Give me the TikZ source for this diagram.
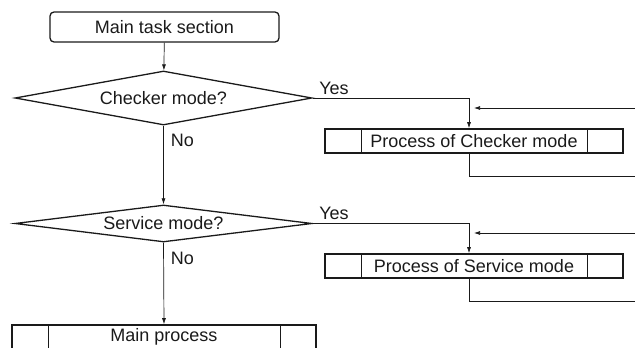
\documentclass[tikz,border=0pt]{standalone}
\usepackage{fontspec}
\setmainfont{Liberation Sans}
\usetikzlibrary{shapes.geometric,arrows.meta}
\definecolor{ink}{HTML}{1a1a1a}

\begin{document}
\begin{tikzpicture}[x=1pt, y=-1pt, font=\fontsize{18}{20}\selectfont, color=ink,
  decide/.style={diamond, draw, line width=1.3pt, aspect=8, inner sep=0pt, minimum width=297pt},
  procbox/.style={rectangle, draw, line width=1.6pt, minimum width=298pt, minimum height=24pt, inner sep=0pt},
  flow/.style={line width=0.7pt, -{Latex[length=6pt,width=4pt]}},
  link/.style={line width=0.7pt},
  answer/.style={inner sep=0pt, anchor=west, xshift=7pt}]
\useasboundingbox (0,0) rectangle (635,348);
\clip (0,0) rectangle (635,348);
\node[draw, rounded corners=4pt, line width=1.3pt, minimum width=229pt, minimum height=30pt] (task) at (164.5,27) {Main task section};
\node[decide, minimum height=54pt] (chk) at (163.5,98) {Checker mode?};
\node[decide, minimum height=37pt] (srv) at (163.5,223.5) {Service mode?};
\node[procbox] (pchk) at (474,141) {Process of Checker mode};
\node[procbox] (psrv) at (474,266) {Process of Service mode};
\node[procbox, minimum width=304pt] (pmain) at (164,337) {Main process};
\foreach \p in {pchk,psrv,pmain}
  \draw[line width=0.9pt] ([xshift=37pt]\p.north west) -- ([xshift=37pt]\p.south west)
    ([xshift=-36pt]\p.north east) -- ([xshift=-36pt]\p.south east);
\coordinate (in1) at ([xshift=-5pt]pchk.north);
\coordinate (in2) at ([xshift=-5pt]psrv.north);
\coordinate (back1) at (635,108);
\coordinate (tip1) at (474,108);
\coordinate (back2) at (635,233);
\coordinate (tip2) at (474,233);
\coordinate (out1) at (635,176);
\coordinate (out2) at (635,301);
\draw[flow] (task) -- (chk);
\draw[flow] (chk.south) -- (srv.north) node[pos=0.19, answer] {No};
\draw[flow] (srv.south) -- (pmain.north) node[pos=0.19, answer] {No};
\draw[flow] (chk.east) -| (in1) node[pos=0, anchor=south west, xshift=3pt] {Yes};
\draw[flow] (srv.east) -| (in2) node[pos=0, anchor=south west, xshift=3pt] {Yes};
\draw[flow] (back1) -- (tip1);
\draw[flow] (back2) -- (tip2);
\draw[link] ([xshift=-5pt]pchk.south) |- (out1);
\draw[link] ([xshift=-5pt]psrv.south) |- (out2);
\end{tikzpicture}
\end{document}
